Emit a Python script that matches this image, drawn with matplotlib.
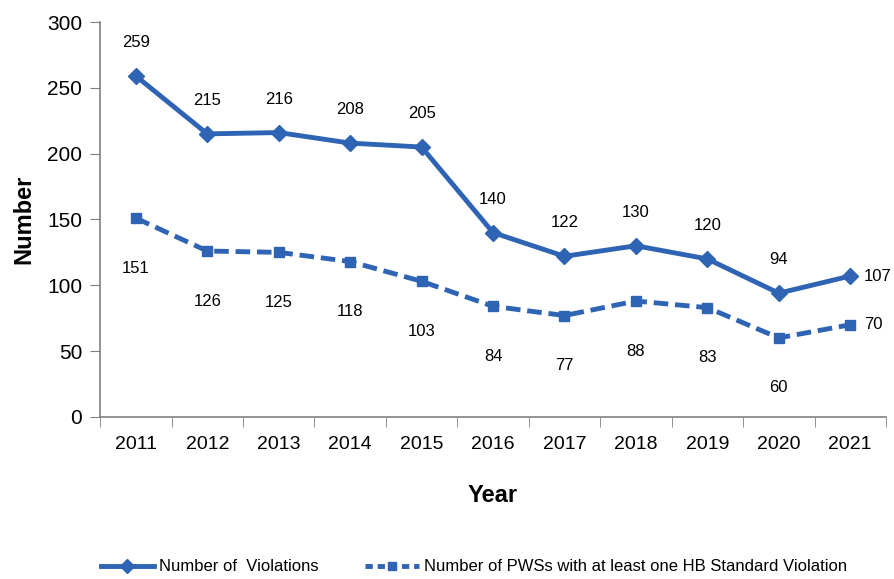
import matplotlib
matplotlib.use("Agg")
import matplotlib.pyplot as plt
from matplotlib.lines import Line2D

years = ["2011", "2012", "2013", "2014", "2015", "2016", "2017", "2018", "2019", "2020", "2021"]
violations = [259, 215, 216, 208, 205, 140, 122, 130, 120, 94, 107]
pws_counts = [151, 126, 125, 118, 103, 84, 77, 88, 83, 60, 70]
series_names = ["Number of  Violations", "Number of PWSs with at least one HB Standard Violation"]

blue = "#2F64B5"
plt.rcParams["font.family"] = ["Liberation Sans Narrow", "Liberation Sans", "DejaVu Sans"]

fig = plt.figure(figsize=(8.94, 5.79), dpi=100)
ax = fig.add_axes([0.112, 0.28, 0.879, 0.682])

x = list(range(len(years)))
ax.plot(x, violations, color=blue, lw=3.5, marker="D", ms=8, solid_joinstyle="round")
ax.plot(x, pws_counts, color=blue, lw=3.5, ls=(0, (3.0, 1.4)), marker="s", ms=7)

last = len(years) - 1
for i, v in enumerate(violations):
    if i == last:
        ax.annotate(str(v), (i, v), xytext=(10, 0), textcoords="offset points",
                    ha="left", va="center", fontsize=12)
    else:
        ax.annotate(str(v), (i, v), xytext=(0, 24), textcoords="offset points",
                    ha="center", va="center", fontsize=12)
for i, v in enumerate(pws_counts):
    if i == last:
        ax.annotate(str(v), (i, v), xytext=(10, 0), textcoords="offset points",
                    ha="left", va="center", fontsize=12)
    else:
        ax.annotate(str(v), (i, v), xytext=(0, -36), textcoords="offset points",
                    ha="center", va="center", fontsize=12)

ax.set_xlim(-0.5, len(years) - 0.5)
ax.set_ylim(0, 300)
ax.set_yticks(range(0, 301, 50))
ax.set_xticks(x)
ax.set_xticklabels(years)
ax.set_xticks([i - 0.5 for i in range(len(years) + 1)], minor=True)
ax.tick_params(axis="x", which="major", length=0, labelsize=14, pad=14)
ax.tick_params(axis="x", which="minor", length=7, color="#808080")
ax.tick_params(axis="y", length=7, color="#808080", labelsize=15, pad=6)

for side in ["top", "right"]:
    ax.spines[side].set_visible(False)
for side in ["left", "bottom"]:
    ax.spines[side].set_color("#808080")
    ax.spines[side].set_linewidth(1.2)

ax.set_ylabel("Number", fontsize=17, fontweight="bold", labelpad=8)
ax.set_xlabel("Year", fontsize=17, fontweight="bold", labelpad=22)

handles = [
    Line2D([], [], color=blue, lw=3.5, marker="D", ms=7),
    Line2D([], [], color=blue, lw=3.5, ls=(0, (1.5, 1.0)), marker="s", ms=6),
]
fig.legend(handles, series_names, loc="lower center", bbox_to_anchor=(0.53, -0.018),
           ncol=2, frameon=False, fontsize=12, handlelength=3.2, handletextpad=0.3,
           columnspacing=2.8)

fig.savefig("out.png", dpi=100)
